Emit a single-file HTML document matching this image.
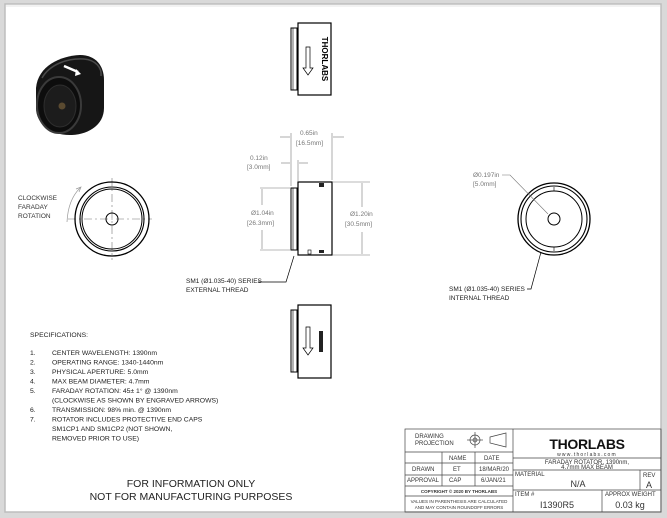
<!DOCTYPE html>
<html><head><meta charset="utf-8"><style>
html,body{margin:0;padding:0;background:#fff}
svg{display:block}
text{font-family:"Liberation Sans",sans-serif}
</style></head><body>
<svg width="667" height="518" viewBox="0 0 667 518" xmlns="http://www.w3.org/2000/svg">
<rect x="0" y="0" width="667" height="518" fill="#d9d9d9"/>
<rect x="5" y="4" width="656" height="508" fill="#fff" stroke="#bdbdbd" stroke-width="1.5"/>
<line x1="6" y1="6" x2="660" y2="6" stroke="#e6e6e6"/>

<!-- 3D render -->
<g>
<path d="M36 88 C38 66 60 56 80 55 C96 55 104 66 104 80 L104 108 C104 124 90 134 72 135 C52 136 36 124 36 108 Z" fill="#161616"/>
<path d="M42 78 C50 64 68 58 84 59 C96 60 102 68 101 76" fill="none" stroke="#4a4a4a" stroke-width="1.5"/>
<ellipse cx="59" cy="105" rx="22" ry="28" fill="#0d0d0d" stroke="#3a3a3a" stroke-width="2"/>
<ellipse cx="60" cy="106" rx="16" ry="21" fill="#1c1c1c" stroke="#2e2e2e" stroke-width="1"/>
<circle cx="62" cy="106" r="3.5" fill="#5a4a30"/>
<path d="M64 66 L78 72" stroke="#fff" stroke-width="2.5"/>
<path d="M76 69 L81 74 L75 76 Z" fill="#fff"/>
</g>

<!-- Top view -->
<rect x="298" y="23" width="33" height="72" fill="#fff" stroke="#000" stroke-width="1.2"/>
<rect x="291" y="28" width="6" height="62" fill="#fff" stroke="#000" stroke-width="1"/>
<line x1="293" y1="28" x2="293" y2="90" stroke="#000" stroke-width="0.6"/>
<text x="322" y="59" font-size="8" font-weight="bold" transform="rotate(90 322 59)" text-anchor="middle">THORLABS</text>
<path d="M306 47 L310 47 L310 68 L313 68 L308 75 L303 68 L306 68 Z" fill="none" stroke="#000" stroke-width="0.7"/>

<!-- Side view -->
<rect x="298" y="182" width="34" height="73" fill="#fff" stroke="#000" stroke-width="1.2"/>
<rect x="291" y="188" width="6" height="62" fill="#fff" stroke="#000" stroke-width="1"/>
<line x1="293" y1="188" x2="293" y2="250" stroke="#000" stroke-width="0.6"/>
<rect x="319" y="183" width="5" height="4" fill="#222"/>
<rect x="319" y="250" width="5" height="3" fill="#222"/>
<rect x="308" y="250" width="3" height="4" fill="none" stroke="#000" stroke-width="0.6"/>
<g stroke="#777" stroke-width="0.6" fill="none">
<line x1="291" y1="133" x2="291" y2="186"/><line x1="332" y1="133" x2="332" y2="180"/>
<line x1="280" y1="137" x2="290" y2="137"/><line x1="333" y1="137" x2="344" y2="137"/>
<line x1="298" y1="160" x2="298" y2="181"/>
<line x1="281" y1="163" x2="290" y2="163"/><line x1="299" y1="163" x2="308" y2="163"/>
<line x1="260" y1="188" x2="290" y2="188"/><line x1="260" y1="250" x2="290" y2="250"/>
<line x1="262" y1="189" x2="262" y2="205"/><line x1="262" y1="230" x2="262" y2="249"/>
<line x1="333" y1="182" x2="370" y2="182"/><line x1="333" y1="255" x2="370" y2="255"/>
<line x1="362" y1="183" x2="362" y2="207"/><line x1="362" y1="232" x2="362" y2="254"/>
</g>
<g fill="#777" font-size="6.5">
<text x="300" y="135">0.65in</text><text x="296" y="145">[16.5mm]</text>
<text x="250" y="160">0.12in</text><text x="247" y="169">[3.0mm]</text>
<text x="251" y="215">Ø1.04in</text><text x="247" y="225">[26.3mm]</text>
<text x="350" y="216">Ø1.20in</text><text x="345" y="226">[30.5mm]</text>
</g>
<polyline points="258,282 286,282 294,256" fill="none" stroke="#000" stroke-width="0.7"/>
<text x="186" y="283" font-size="6.5" fill="#222">SM1 (Ø1.035-40) SERIES</text>
<text x="186" y="292" font-size="6.5" fill="#222">EXTERNAL THREAD</text>

<!-- Bottom view -->
<rect x="298" y="305" width="33" height="73" fill="#fff" stroke="#000" stroke-width="1.2"/>
<rect x="291" y="310" width="6" height="62" fill="#fff" stroke="#000" stroke-width="1"/>
<line x1="293" y1="310" x2="293" y2="372" stroke="#000" stroke-width="0.6"/>
<rect x="319" y="331" width="4" height="21" fill="#222"/>
<path d="M306 327 L310 327 L310 348 L313 348 L308 355 L303 348 L306 348 Z" fill="none" stroke="#000" stroke-width="0.7"/>

<!-- Left end view -->
<g stroke="#777" stroke-width="0.6" stroke-dasharray="8,3,2,3">
<line x1="68" y1="219" x2="152" y2="219"/><line x1="112" y1="178" x2="112" y2="260"/>
</g>
<g fill="none" stroke="#000">
<circle cx="112" cy="219" r="37" stroke-width="1.3"/>
<circle cx="112" cy="219" r="32" stroke-width="1.1"/>
<circle cx="112" cy="219" r="30" stroke-width="1"/>
<circle cx="112" cy="219" r="6" stroke-width="1"/>
</g>
<path d="M67 222 Q68 200 80 188" fill="none" stroke="#999" stroke-width="0.7"/>
<path d="M76 189 L81 187 L79 192" fill="none" stroke="#999" stroke-width="0.7"/>
<g fill="#333" font-size="6.5">
<text x="18" y="200">CLOCKWISE</text><text x="18" y="209">FARADAY</text><text x="18" y="218">ROTATION</text>
</g>

<!-- Right end view -->
<g fill="none" stroke="#000">
<circle cx="554" cy="219" r="36" stroke-width="1.3"/>
<circle cx="554" cy="219" r="33" stroke-width="1.1"/>
<circle cx="554" cy="219" r="28" stroke-width="1"/>
<circle cx="554" cy="219" r="6" stroke-width="1"/>
</g>
<line x1="554" y1="187" x2="554" y2="191" stroke="#000" stroke-width="0.6"/>
<line x1="554" y1="247" x2="554" y2="251" stroke="#000" stroke-width="0.6"/>
<polyline points="502,175 510,175 548,214" fill="none" stroke="#777" stroke-width="0.6"/>
<text x="473" y="177" font-size="6.5" fill="#777">Ø0.197in</text>
<text x="473" y="186" font-size="6.5" fill="#777">[5.0mm]</text>
<polyline points="527,289 531,289 541,252" fill="none" stroke="#000" stroke-width="0.7"/>
<text x="449" y="291" font-size="6.5" fill="#222">SM1 (Ø1.035-40) SERIES</text>
<text x="449" y="300" font-size="6.5" fill="#222">INTERNAL THREAD</text>

<!-- Specifications -->
<g font-size="6.8" fill="#222">
<text x="30" y="337">SPECIFICATIONS:</text>
<text x="30" y="355">1.</text><text x="52" y="355">CENTER WAVELENGTH: 1390nm</text>
<text x="30" y="364.5">2.</text><text x="52" y="364.5">OPERATING RANGE: 1340-1440nm</text>
<text x="30" y="374">3.</text><text x="52" y="374">PHYSICAL APERTURE: 5.0mm</text>
<text x="30" y="383.5">4.</text><text x="52" y="383.5">MAX BEAM DIAMETER: 4.7mm</text>
<text x="30" y="393">5.</text><text x="52" y="393">FARADAY ROTATION: 45± 1° @ 1390nm</text>
<text x="52" y="402.5">(CLOCKWISE AS SHOWN BY ENGRAVED ARROWS)</text>
<text x="30" y="412">6.</text><text x="52" y="412">TRANSMISSION: 98% min. @ 1390nm</text>
<text x="30" y="421.5">7.</text><text x="52" y="421.5">ROTATOR INCLUDES PROTECTIVE END CAPS</text>
<text x="52" y="431">SM1CP1 AND SM1CP2 (NOT SHOWN,</text>
<text x="52" y="440.5">REMOVED PRIOR TO USE)</text>
</g>
<g font-size="10.5" fill="#222" text-anchor="middle">
<text x="191" y="487">FOR INFORMATION ONLY</text>
<text x="191" y="500">NOT FOR MANUFACTURING PURPOSES</text>
</g>

<!-- Title block -->
<g fill="none" stroke="#444" stroke-width="0.7">
<rect x="405" y="429" width="256" height="83"/>
<line x1="513" y1="429" x2="513" y2="512"/>
<line x1="405" y1="452" x2="513" y2="452"/>
<line x1="405" y1="463" x2="513" y2="463"/>
<line x1="405" y1="475" x2="513" y2="475"/>
<line x1="405" y1="486" x2="513" y2="486"/>
<line x1="405" y1="496" x2="513" y2="496"/>
<line x1="442" y1="452" x2="442" y2="486"/>
<line x1="475" y1="452" x2="475" y2="486"/>
<line x1="513" y1="458" x2="661" y2="458"/>
<line x1="513" y1="470" x2="661" y2="470"/>
<line x1="513" y1="490" x2="661" y2="490"/>
<line x1="640" y1="470" x2="640" y2="490"/>
<line x1="602" y1="490" x2="602" y2="512"/>
<circle cx="475" cy="440" r="5"/><circle cx="475" cy="440" r="2"/>
<line x1="467" y1="440" x2="483" y2="440"/><line x1="475" y1="432" x2="475" y2="448"/>
<path d="M490 437 L506 433 L506 447 L490 443 Z"/>
</g>
<g font-size="6" fill="#333">
<text x="415" y="438">DRAWING</text><text x="415" y="445">PROJECTION</text>
<text x="449" y="460">NAME</text><text x="484" y="460">DATE</text>
<text x="412" y="471">DRAWN</text><text x="453" y="471">ET</text><text x="479" y="471">18/MAR/20</text>
<text x="407" y="482">APPROVAL</text><text x="449" y="482">CAP</text><text x="481" y="482">6/JAN/21</text>
<text x="459" y="493" font-size="4.5" text-anchor="middle" font-weight="bold">COPYRIGHT © 2020 BY THORLABS</text>
<text x="459" y="503" font-size="4.5" text-anchor="middle">VALUES IN PARENTHESIS ARE CALCULATED</text>
<text x="459" y="509" font-size="4.5" text-anchor="middle">AND MAY CONTAIN ROUNDOFF ERRORS</text>
<text x="587" y="449" font-size="14" font-weight="bold" text-anchor="middle" fill="#111" letter-spacing="-0.3">THORLABS</text>
<text x="587" y="456" font-size="5" text-anchor="middle" letter-spacing="1.2">www.thorlabs.com</text>
<text x="587" y="464" text-anchor="middle">FARADAY ROTATOR, 1390nm,</text>
<text x="587" y="469" text-anchor="middle">4.7mm MAX BEAM</text>
<text x="515" y="476">MATERIAL</text>
<text x="578" y="487" font-size="9" text-anchor="middle">N/A</text>
<text x="643" y="477">REV</text>
<text x="646" y="488" font-size="9">A</text>
<text x="515" y="496">ITEM #</text>
<text x="557" y="508" font-size="9" text-anchor="middle">I1390R5</text>
<text x="605" y="496">APPROX WEIGHT</text>
<text x="630" y="508" font-size="9" text-anchor="middle">0.03 kg</text>
</g>
</svg>
</body></html>
